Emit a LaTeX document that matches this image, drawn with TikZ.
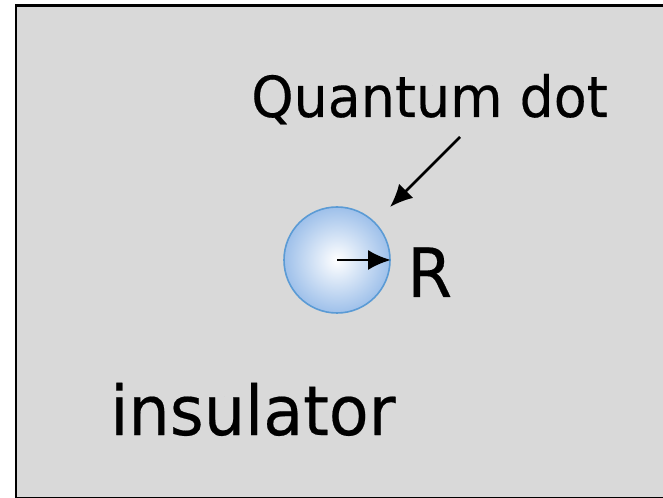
\documentclass[tikz,border=0pt]{standalone}
\usepackage{fontspec}
\setmainfont{DejaVu Sans}[FakeStretch=0.95,FakeBold=0.3]
\usetikzlibrary{arrows.meta}
\definecolor{bggray}{RGB}{217,217,217}
\definecolor{dotblue}{RGB}{158,192,234}
\definecolor{dotedge}{RGB}{91,155,213}
\tikzset{
  lbl/.style={anchor=base west, inner sep=0pt, text=black},
  ptr/.style={line width=2pt, -{Latex[length=17pt,width=15pt]}},
}
\begin{document}
\begin{tikzpicture}[x=0.75pt,y=-0.75pt]
\useasboundingbox (0,0) rectangle (663,498);
\draw[fill=bggray, draw=black, line width=1.6pt] (16,5.5) rectangle (680,498.5);
\node[circle, minimum size=106*0.75pt, inner sep=0pt, draw=dotedge, line width=1.2pt,
      inner color=white, outer color=dotblue] (dot) at (337,260) {};
\node[lbl, font=\fontsize{42.5}{42.5}\selectfont] (qd) at (251,117) {Quantum dot};
\node[lbl, font=\fontsize{51}{51}\selectfont] (r) at (407,297) {R};
\node[lbl, font=\fontsize{51.5}{51.5}\selectfont] (ins) at (110,435) {insulator};
\coordinate (qs) at (460,137);
\coordinate (qe) at (390,207);
\draw[ptr] (qs) -- (qe);
\draw[ptr] (dot.center) -- (dot.east);
\end{tikzpicture}
\end{document}
